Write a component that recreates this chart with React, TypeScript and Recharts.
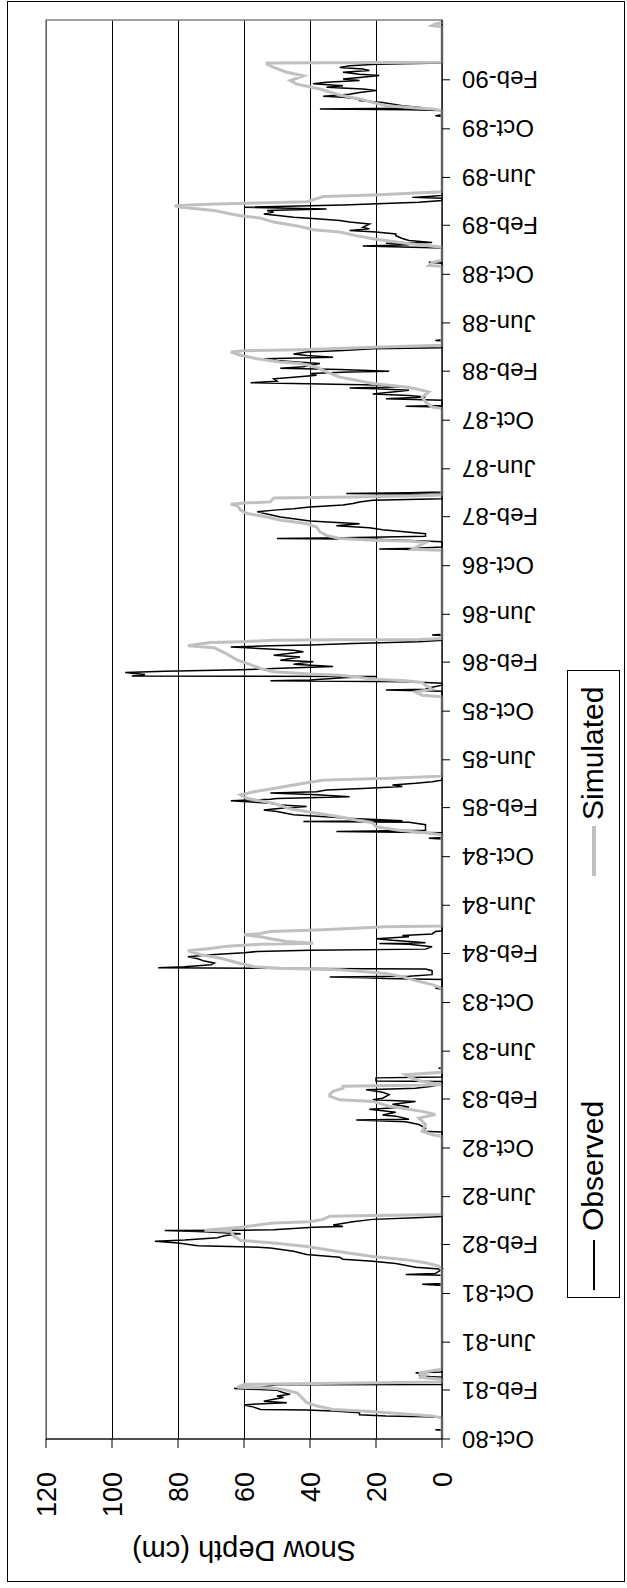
import React from "react";
import {
  LineChart,
  Line,
  XAxis,
  YAxis,
  CartesianGrid,
  ReferenceArea,
  Label,
} from "recharts";

// daily snow depth (cm), one block per winter
const observed: [string, number][] = [
  // 1980-81
  ["1980-10-01", 0], ["1980-10-23", 0], ["1980-10-24", 2], ["1980-10-25", 0], ["1980-11-24", 0],
  ["1980-11-26", 5], ["1980-11-28", 17], ["1980-12-01", 25], ["1980-12-06", 25], ["1980-12-10", 33],
  ["1980-12-13", 41], ["1980-12-14", 55], ["1980-12-20", 57], ["1980-12-25", 60], ["1980-12-28", 56],
  ["1980-12-31", 47], ["1981-01-04", 54], ["1981-01-09", 51], ["1981-01-13", 48], ["1981-01-17", 50],
  ["1981-01-21", 46], ["1981-01-25", 48], ["1981-01-31", 50], ["1981-02-05", 63], ["1981-02-08", 55],
  ["1981-02-14", 50], ["1981-02-15", 0], ["1981-03-05", 0], ["1981-03-08", 7], ["1981-03-12", 5],
  ["1981-03-16", 8], ["1981-03-18", 0],
  // 1981-82
  ["1981-10-21", 0], ["1981-10-24", 6], ["1981-10-26", 0], ["1981-11-16", 0], ["1981-11-18", 11],
  ["1981-11-20", 2], ["1981-12-01", 0], ["1981-12-06", 8], ["1981-12-15", 14], ["1981-12-21", 21],
  ["1981-12-26", 30], ["1981-12-31", 31], ["1982-01-07", 41], ["1982-01-15", 45], ["1982-01-23", 52],
  ["1982-01-26", 58], ["1982-01-29", 74], ["1982-02-05", 80], ["1982-02-09", 87], ["1982-02-12", 78],
  ["1982-02-18", 68], ["1982-02-23", 66], ["1982-02-28", 61], ["1982-03-05", 72], ["1982-03-08", 84],
  ["1982-03-09", 60], ["1982-03-10", 51], ["1982-03-16", 39], ["1982-03-18", 30], ["1982-03-22", 33],
  ["1982-03-30", 27], ["1982-04-05", 21], ["1982-04-09", 8], ["1982-04-12", 0],
  // 1982-83
  ["1982-11-10", 0], ["1982-11-12", 6], ["1982-11-20", 5], ["1982-11-29", 7], ["1982-12-06", 11],
  ["1982-12-10", 26], ["1982-12-12", 10], ["1982-12-20", 14], ["1982-12-23", 18], ["1982-12-30", 14],
  ["1983-01-06", 22], ["1983-01-12", 10], ["1983-01-19", 15], ["1983-01-26", 8], ["1983-01-30", 21],
  ["1983-02-03", 18], ["1983-02-12", 16], ["1983-02-18", 18], ["1983-02-24", 23], ["1983-02-28", 8],
  ["1983-03-05", 3], ["1983-03-10", 0], ["1983-03-17", 0], ["1983-03-18", 20], ["1983-03-26", 20],
  ["1983-03-28", 0], ["1983-04-18", 0], ["1983-04-19", 1], ["1983-04-21", 0],
  // 1983-84
  ["1983-11-04", 0], ["1983-11-06", 2], ["1983-11-10", 0], ["1983-11-28", 0], ["1983-11-30", 17],
  ["1983-12-02", 23], ["1983-12-04", 34], ["1983-12-06", 10], ["1983-12-10", 3], ["1983-12-20", 3],
  ["1983-12-24", 5], ["1983-12-26", 57], ["1983-12-27", 86], ["1983-12-30", 78], ["1984-01-04", 70],
  ["1984-01-08", 69], ["1984-01-13", 72], ["1984-01-19", 74], ["1984-01-24", 77], ["1984-01-29", 70],
  ["1984-02-03", 60], ["1984-02-06", 56], ["1984-02-09", 40], ["1984-02-12", 5], ["1984-02-18", 3],
  ["1984-02-24", 10], ["1984-02-26", 19], ["1984-02-28", 5], ["1984-03-05", 15], ["1984-03-09", 20],
  ["1984-03-14", 10], ["1984-03-17", 12], ["1984-03-21", 3], ["1984-03-27", 2], ["1984-03-29", 0],
  // 1984-85
  ["1984-11-14", 0], ["1984-11-16", 4], ["1984-11-18", 0], ["1984-11-30", 0], ["1984-12-03", 32],
  ["1984-12-06", 5], ["1984-12-20", 5], ["1984-12-26", 10], ["1984-12-28", 42], ["1984-12-30", 12],
  ["1985-01-05", 27], ["1985-01-14", 45], ["1985-01-22", 50], ["1985-01-26", 54], ["1985-01-31", 48],
  ["1985-02-04", 41], ["1985-02-08", 50], ["1985-02-12", 52], ["1985-02-18", 64], ["1985-02-22", 52],
  ["1985-02-24", 50], ["1985-02-28", 28], ["1985-03-05", 38], ["1985-03-10", 52], ["1985-03-13", 38],
  ["1985-03-17", 35], ["1985-03-21", 24], ["1985-03-26", 12], ["1985-03-30", 15], ["1985-04-03", 8],
  ["1985-04-07", 3], ["1985-04-11", 0],
  // 1985-86
  ["1985-11-20", 0], ["1985-11-23", 17], ["1985-11-25", 5], ["1985-11-30", 3], ["1985-12-05", 0],
  ["1985-12-10", 0], ["1985-12-14", 10], ["1985-12-16", 52], ["1985-12-18", 40], ["1985-12-24", 30],
  ["1985-12-27", 20], ["1985-12-28", 94], ["1986-01-01", 90], ["1986-01-06", 96], ["1986-01-09", 84],
  ["1986-01-13", 61], ["1986-01-16", 51], ["1986-01-21", 33], ["1986-01-27", 45], ["1986-02-02", 39],
  ["1986-02-06", 49], ["1986-02-14", 43], ["1986-02-18", 51], ["1986-02-27", 42], ["1986-03-03", 45],
  ["1986-03-11", 64], ["1986-03-14", 52], ["1986-03-16", 40], ["1986-03-20", 27], ["1986-03-24", 7],
  ["1986-03-28", 0], ["1986-04-09", 0], ["1986-04-10", 3], ["1986-04-12", 0],
  // 1986-87
  ["1986-11-10", 0], ["1986-11-12", 19], ["1986-11-14", 8], ["1986-11-17", 0], ["1986-11-30", 0],
  ["1986-12-06", 20], ["1986-12-08", 50], ["1986-12-10", 30], ["1986-12-14", 5], ["1986-12-20", 5],
  ["1986-12-30", 18], ["1987-01-04", 22], ["1987-01-09", 32], ["1987-01-14", 25], ["1987-01-21", 40],
  ["1987-01-27", 45], ["1987-01-31", 49], ["1987-02-06", 52], ["1987-02-13", 56], ["1987-02-18", 50],
  ["1987-02-21", 45], ["1987-02-25", 40], ["1987-03-02", 30], ["1987-03-06", 27], ["1987-03-10", 25],
  ["1987-03-14", 21], ["1987-03-18", 0], ["1987-03-29", 0], ["1987-03-31", 29], ["1987-04-02", 10],
  ["1987-04-04", 0],
  // 1987-88
  ["1987-11-03", 0], ["1987-11-05", 11], ["1987-11-07", 0], ["1987-11-20", 0], ["1987-11-24", 17],
  ["1987-11-28", 5], ["1987-12-02", 10], ["1987-12-06", 21], ["1987-12-11", 15], ["1987-12-15", 10],
  ["1987-12-19", 20], ["1987-12-21", 28], ["1987-12-24", 12], ["1987-12-28", 20], ["1988-01-01", 45],
  ["1988-01-03", 58], ["1988-01-07", 50], ["1988-01-13", 51], ["1988-01-17", 45], ["1988-01-22", 38],
  ["1988-01-26", 40], ["1988-01-30", 28], ["1988-02-01", 16], ["1988-02-05", 31], ["1988-02-08", 49],
  ["1988-02-12", 42], ["1988-02-16", 40], ["1988-02-20", 37], ["1988-02-24", 44], ["1988-02-28", 50],
  ["1988-03-03", 54], ["1988-03-07", 33], ["1988-03-11", 41], ["1988-03-15", 45], ["1988-03-20", 41],
  ["1988-03-24", 30], ["1988-03-28", 21], ["1988-03-31", 0], ["1988-04-17", 0], ["1988-04-18", 2],
  ["1988-04-20", 0],
  // 1988-89
  ["1988-10-29", 0], ["1988-10-31", 4], ["1988-11-02", 0], ["1988-12-06", 0], ["1988-12-11", 24],
  ["1988-12-14", 10], ["1988-12-18", 17], ["1988-12-20", 3], ["1988-12-25", 10], ["1988-12-30", 12],
  ["1989-01-06", 14], ["1989-01-10", 14], ["1989-01-15", 20], ["1989-01-19", 28], ["1989-01-23", 22],
  ["1989-01-27", 24], ["1989-02-04", 22], ["1989-02-09", 28], ["1989-02-13", 31], ["1989-02-17", 37],
  ["1989-02-21", 45], ["1989-02-25", 49], ["1989-03-01", 54], ["1989-03-06", 51], ["1989-03-10", 53],
  ["1989-03-14", 35], ["1989-03-18", 60], ["1989-03-24", 30], ["1989-03-31", 7], ["1989-04-04", 0],
  ["1989-04-10", 0], ["1989-04-12", 9], ["1989-04-15", 3], ["1989-04-17", 0],
  // 1989-90
  ["1989-11-01", 0], ["1989-11-03", 2], ["1989-11-05", 0], ["1989-11-16", 0], ["1989-11-18", 10],
  ["1989-11-20", 37], ["1989-11-22", 5], ["1989-11-28", 12], ["1989-12-06", 18], ["1989-12-11", 25],
  ["1989-12-15", 25], ["1989-12-19", 30], ["1989-12-22", 36], ["1989-12-27", 28], ["1989-12-31", 25],
  ["1990-01-05", 20], ["1990-01-09", 24], ["1990-01-13", 35], ["1990-01-17", 30], ["1990-01-22", 39],
  ["1990-01-26", 35], ["1990-01-30", 25], ["1990-02-03", 30], ["1990-02-07", 25], ["1990-02-12", 19],
  ["1990-02-15", 25], ["1990-02-20", 30], ["1990-02-24", 22], ["1990-02-28", 24], ["1990-03-04", 31],
  ["1990-03-08", 28], ["1990-03-12", 20], ["1990-03-15", 0], ["1990-06-28", 0],
];

const simulated: [string, number][] = [
  // 1980-81
  ["1980-10-01", 0], ["1980-11-23", 0], ["1980-11-28", 3], ["1980-12-02", 10], ["1980-12-10", 24],
  ["1980-12-14", 33], ["1980-12-23", 38], ["1980-12-31", 41], ["1981-01-09", 42], ["1981-01-17", 43],
  ["1981-01-25", 44], ["1981-02-02", 48], ["1981-02-06", 52], ["1981-02-08", 62], ["1981-02-15", 60],
  ["1981-02-21", 0], ["1981-02-28", 0], ["1981-03-05", 7], ["1981-03-10", 5], ["1981-03-15", 7],
  ["1981-03-20", 4], ["1981-03-25", 0],
  // 1981-82
  ["1981-11-30", 0], ["1981-12-09", 1], ["1981-12-17", 5], ["1981-12-25", 11], ["1982-01-02", 21],
  ["1982-01-14", 31], ["1982-01-27", 41], ["1982-02-05", 51], ["1982-02-11", 61], ["1982-02-22", 63],
  ["1982-03-06", 64], ["1982-03-09", 72], ["1982-03-16", 61], ["1982-03-27", 51], ["1982-03-30", 40],
  ["1982-04-05", 36], ["1982-04-13", 34], ["1982-04-15", 21], ["1982-04-17", 0],
  // 1982-83
  ["1982-10-30", 0], ["1982-11-04", 3], ["1982-11-12", 6], ["1982-11-29", 5], ["1982-12-15", 7],
  ["1982-12-24", 2], ["1983-01-01", 6], ["1983-01-14", 16], ["1983-01-26", 21], ["1983-01-30", 31],
  ["1983-02-08", 34], ["1983-02-13", 34], ["1983-02-20", 33], ["1983-02-28", 30], ["1983-03-05", 30],
  ["1983-03-09", 0], ["1983-03-17", 6], ["1983-03-25", 9], ["1983-04-03", 11], ["1983-04-09", 0],
  // 1983-84
  ["1983-11-06", 0], ["1983-11-15", 3], ["1983-11-25", 8], ["1983-12-05", 12], ["1983-12-13", 17],
  ["1983-12-18", 24], ["1983-12-22", 31], ["1983-12-24", 41], ["1983-12-26", 49], ["1983-12-30", 57],
  ["1984-01-09", 62], ["1984-01-20", 67], ["1984-01-29", 73], ["1984-02-08", 77], ["1984-02-13", 71],
  ["1984-02-19", 65], ["1984-02-24", 55], ["1984-02-27", 39], ["1984-03-02", 47], ["1984-03-09", 52],
  ["1984-03-14", 55], ["1984-03-19", 60], ["1984-03-22", 55], ["1984-03-27", 52], ["1984-03-31", 38],
  ["1984-04-04", 28], ["1984-04-08", 17], ["1984-04-10", 0],
  // 1984-85
  ["1984-11-25", 0], ["1984-11-30", 5], ["1984-12-06", 13], ["1984-12-15", 20], ["1984-12-25", 21],
  ["1985-01-01", 26], ["1985-01-09", 31], ["1985-01-19", 39], ["1985-01-29", 46], ["1985-02-12", 51],
  ["1985-02-24", 59], ["1985-03-05", 61], ["1985-03-13", 57], ["1985-03-21", 51], ["1985-03-30", 45],
  ["1985-04-07", 39], ["1985-04-11", 36], ["1985-04-16", 16], ["1985-04-21", 0],
  // 1985-86
  ["1985-11-06", 0], ["1985-11-10", 6], ["1985-11-18", 8], ["1985-11-25", 3], ["1985-12-05", 5],
  ["1985-12-12", 6], ["1985-12-16", 11], ["1985-12-20", 21], ["1985-12-26", 26], ["1985-12-30", 31],
  ["1986-01-02", 40], ["1986-01-08", 51], ["1986-01-16", 55], ["1986-01-29", 59], ["1986-02-06", 62],
  ["1986-02-25", 66], ["1986-03-09", 69], ["1986-03-14", 77], ["1986-03-18", 74], ["1986-03-22", 70],
  ["1986-03-24", 61], ["1986-03-28", 51], ["1986-03-29", 31], ["1986-03-30", 7], ["1986-04-01", 0],
  // 1986-87
  ["1986-11-09", 0], ["1986-11-11", 9], ["1986-11-20", 7], ["1986-11-28", 5], ["1986-12-02", 10],
  ["1986-12-04", 21], ["1986-12-08", 31], ["1986-12-16", 35], ["1986-12-25", 37], ["1987-01-06", 38],
  ["1987-01-14", 41], ["1987-01-19", 45], ["1987-01-23", 49], ["1987-01-31", 53], ["1987-02-09", 59],
  ["1987-02-17", 61], ["1987-02-28", 62], ["1987-03-04", 64], ["1987-03-07", 60], ["1987-03-10", 52],
  ["1987-03-20", 51], ["1987-03-22", 27], ["1987-03-25", 10], ["1987-03-27", 0],
  // 1987-88
  ["1987-10-30", 0], ["1987-11-03", 3], ["1987-11-16", 5], ["1987-11-28", 6], ["1987-12-11", 4],
  ["1987-12-19", 8], ["1987-12-23", 11], ["1988-01-01", 21], ["1988-01-09", 26], ["1988-01-17", 31],
  ["1988-01-30", 35], ["1988-02-11", 38], ["1988-02-20", 43], ["1988-02-24", 49], ["1988-03-03", 56],
  ["1988-03-12", 61], ["1988-03-20", 64], ["1988-03-23", 60], ["1988-03-26", 43], ["1988-04-01", 21],
  ["1988-04-06", 0],
  // 1988-89
  ["1988-10-21", 0], ["1988-10-23", 4], ["1988-10-31", 3], ["1988-11-05", 0], ["1988-12-08", 0],
  ["1988-12-18", 11], ["1988-12-29", 21], ["1989-01-06", 26], ["1989-01-15", 31], ["1989-01-21", 39],
  ["1989-01-29", 43], ["1989-02-09", 51], ["1989-02-19", 55], ["1989-02-25", 61], ["1989-03-03", 65],
  ["1989-03-10", 69], ["1989-03-18", 79], ["1989-03-22", 81], ["1989-03-26", 71], ["1989-03-29", 56],
  ["1989-04-01", 41], ["1989-04-14", 36], ["1989-04-18", 21], ["1989-04-22", 11], ["1989-04-26", 0],
  // 1989-90
  ["1989-11-16", 0], ["1989-11-20", 3], ["1989-11-28", 17], ["1989-12-15", 25], ["1989-12-25", 31],
  ["1990-01-09", 37], ["1990-01-21", 44], ["1990-01-30", 46], ["1990-02-11", 42], ["1990-02-20", 47],
  ["1990-03-04", 51], ["1990-03-12", 53], ["1990-03-15", 53], ["1990-03-17", 0], ["1990-06-14", 0],
  ["1990-06-17", 3], ["1990-06-21", 2], ["1990-06-24", 0], ["1990-06-28", 0],
];

const tickDates = [
  "1980-10-01", "1981-02-01", "1981-06-01", "1981-10-01", "1982-02-01", "1982-06-01",
  "1982-10-01", "1983-02-01", "1983-06-01", "1983-10-01", "1984-02-01", "1984-06-01",
  "1984-10-01", "1985-02-01", "1985-06-01", "1985-10-01", "1986-02-01", "1986-06-01",
  "1986-10-01", "1987-02-01", "1987-06-01", "1987-10-01", "1988-02-01", "1988-06-01",
  "1988-10-01", "1989-02-01", "1989-06-01", "1989-10-01", "1990-02-01",
];
const axisStart = "1980-10-01";
const axisEnd = "1990-07-01";
const depthTicks = [0, 20, 40, 60, 80, 100, 120];
const monthNames = ["Jan", "Feb", "Mar", "Apr", "May", "Jun", "Jul", "Aug", "Sep", "Oct", "Nov", "Dec"];

const toDay = (iso: string) => {
  const [y, m, d] = iso.split("-").map(Number);
  return Date.UTC(y, m - 1, d) / 86400000;
};
const fmtDate = (day: number) => {
  const dt = new Date(day * 86400000);
  return `${monthNames[dt.getUTCMonth()]}-${String(dt.getUTCFullYear()).slice(2)}`;
};

const observedData = observed.map(([date, depth]) => ({ t: toDay(date), depth }));
const simulatedData = simulated.map(([date, depth]) => ({ t: toDay(date), depth }));

// the whole chart is drawn landscape and turned a quarter turn to the left
const W = 1588;
const H = 627;
const FONT = '"Liberation Sans", Arial, sans-serif';

function DateTick(props: any) {
  const { x, y, payload } = props;
  return (
    <text
      x={x}
      y={y}
      dy="0.35em"
      transform={`rotate(-90 ${x} ${y})`}
      textAnchor="end"
      fontSize={24}
      fill="#000"
    >
      {fmtDate(payload.value)}
    </text>
  );
}

function renderTitle(props: any) {
  const vb = props.viewBox;
  const cx = vb.x - 52;
  const cy = vb.y + vb.height / 2;
  return (
    <text
      x={cx}
      y={cy}
      transform={`rotate(-90 ${cx} ${cy})`}
      textAnchor="middle"
      dominantBaseline="central"
      fontSize={29}
      fill="#000"
    >
      Snow Depth (cm)
    </text>
  );
}

export default function App() {
  return (
    <>
      <style>{`html,body{margin:0;padding:0;overflow:hidden;background:#fff}`}</style>
      <div
        style={{
          position: "absolute",
          left: 0,
          top: 0,
          width: W,
          height: H,
          transformOrigin: "0 0",
          transform: `translateY(${W}px) rotate(-90deg)`,
          fontFamily: FONT,
          background: "#fff",
        }}
      >
        <div
          style={{
            position: "absolute",
            left: 6,
            top: 7,
            width: 1581,
            height: 618,
            border: "1px solid #000",
            boxSizing: "border-box",
          }}
        />
        <LineChart width={W} height={H} margin={{ top: 46, right: 20, left: 89, bottom: 85 }}>
          <CartesianGrid vertical={false} stroke="#000" shapeRendering="crispEdges" />
          <XAxis
            dataKey="t"
            type="number"
            domain={[toDay(axisStart), toDay(axisEnd)]}
            ticks={tickDates.map(toDay)}
            interval={0}
            allowDataOverflow
            height={100}
            tickSize={8}
            tickMargin={12}
            tick={<DateTick />}
            axisLine={{ stroke: "#000" }}
            tickLine={{ stroke: "#000" }}
          />
          <YAxis
            type="number"
            domain={[0, 120]}
            ticks={depthTicks}
            interval={0}
            width={60}
            tickSize={9}
            tickMargin={24}
            tick={{ fontSize: 27, fill: "#000" }}
            axisLine={{ stroke: "#000" }}
            tickLine={{ stroke: "#000" }}
          >
            <Label content={renderTitle} />
          </YAxis>
          <ReferenceArea
            x1={toDay(axisStart)}
            x2={toDay(axisEnd)}
            y1={0}
            y2={120}
            fill="none"
            stroke="#808080"
            strokeWidth={1.5}
          />
          <Line
            data={observedData}
            dataKey="depth"
            type="linear"
            stroke="#000"
            strokeWidth={1.5}
            dot={false}
            isAnimationActive={false}
            name="Observed"
          />
          <Line
            data={simulatedData}
            dataKey="depth"
            type="linear"
            stroke="#c0c0c0"
            strokeWidth={3}
            dot={false}
            isAnimationActive={false}
            name="Simulated"
          />
        </LineChart>
        {/* legend box */}
        <div
          style={{
            position: "absolute",
            left: 290,
            top: 567,
            width: 628,
            height: 53,
            border: "1px solid #000",
            boxSizing: "border-box",
            fontSize: 30,
            color: "#000",
          }}
        >
          <div style={{ position: "absolute", left: 7, top: 25, width: 50, height: 2, background: "#000" }} />
          <div style={{ position: "absolute", left: 66, top: 8, lineHeight: "34px" }}>Observed</div>
          <div style={{ position: "absolute", left: 421, top: 24, width: 50, height: 4, background: "#c0c0c0" }} />
          <div style={{ position: "absolute", left: 477, top: 8, lineHeight: "34px" }}>Simulated</div>
        </div>
      </div>
    </>
  );
}
